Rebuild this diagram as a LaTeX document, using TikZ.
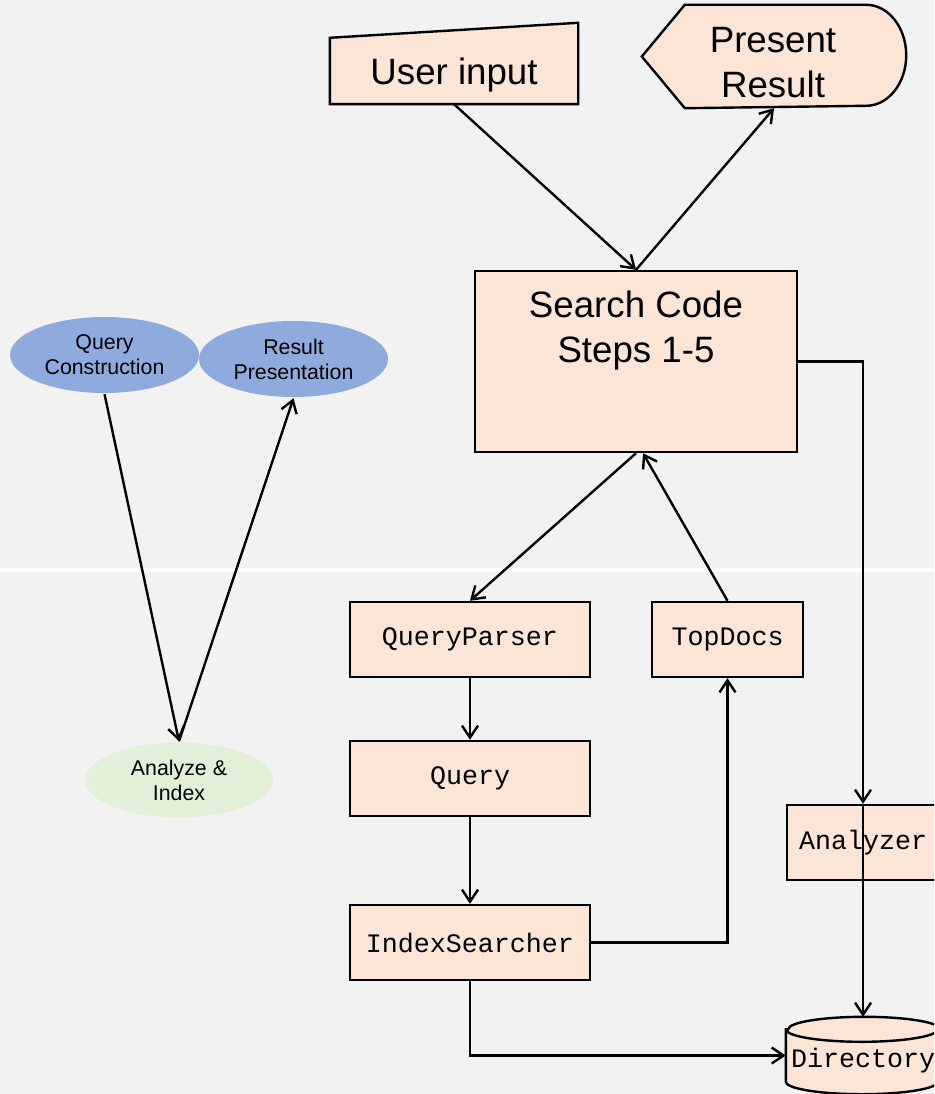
\documentclass[tikz,border=0pt]{standalone}
\usepackage{fontspec}
\setmainfont{Liberation Sans}
\setmonofont{Liberation Mono}
\usetikzlibrary{shapes.geometric,arrows.meta}

\definecolor{peach}{HTML}{FBE5D6}
\definecolor{topicblue}{HTML}{8FAADC}
\definecolor{topicgreen}{HTML}{E2F0D9}
\definecolor{slidegray}{HTML}{F2F2F2}

\begin{document}
\begin{tikzpicture}[x=0.75pt,y=-0.75pt,line width=1.8pt,
  conn/.style={-{Straight Barb[length=9pt,width=12pt]}},
  bigtext/.style={font=\fontsize{27.5}{33.75}\selectfont},
  codebox/.style={draw,fill=peach,rectangle,inner sep=0pt,
    minimum width=180pt,minimum height=56.25pt,
    font=\ttfamily\fontsize{20}{24}\selectfont},
  topic/.style={ellipse,inner sep=0pt,align=center,
    minimum width=141.75pt,minimum height=57pt,
    font=\fontsize{16}{18.75}\selectfont}]

  %background
  \useasboundingbox (0,0) rectangle (934,1094);
  \clip (0,0) rectangle (934,1094);
  \fill[slidegray] (0,0) rectangle (934,1094);
  \draw[white,line width=2.5pt] (0,570) -- (934,570);

  %topics
  \node[topic,fill=topicblue] (qcons) at (104.5,355) {Query\\Construction};
  \node[topic,fill=topicblue] (rpres) at (293.5,359) {Result\\Presentation};
  \node[topic,fill=topicgreen,minimum width=141pt,minimum height=56.25pt] (analyze) at (179,780) {Analyze \&\\Index};

  \draw[conn] (qcons.south) -- (analyze.north);
  \draw[conn] (analyze.north) -- (rpres.south);

  %user input
  \node[rectangle,inner sep=0pt,minimum width=184.5pt,minimum height=48pt,
    text depth=0pt,bigtext] (user) at (454,71) {};
  \draw[fill=peach] (user.south west) -- (user.south east)
    -- ([yshift=11.25pt]user.north east) -- (user.north west) -- cycle;
  \node[bigtext,text depth=0pt] (usertext) at (user.center) {User input};

  %present result
  \node[rectangle,inner sep=0pt,minimum width=196.5pt,minimum height=75.75pt] (present) at (774,56.5) {};
  \draw[fill=peach] (present.west) -- ([xshift=32.25pt]present.north west)
    -- ([xshift=-30pt]present.north east)
    arc[start angle=90,end angle=-90,x radius=30pt,y radius=37.875pt]
    -- ([xshift=32.25pt]present.south west) -- cycle;
  \node[bigtext,align=center] (presenttext) at (773,62.5) {Present\\Result};

  %search code
  \node[draw,fill=peach,rectangle,inner sep=0pt,
    minimum width=241.5pt,minimum height=135.75pt] (search) at (636,361.5) {};
  \node[bigtext,align=center,anchor=north,inner sep=0pt] (searchtext) at (636,290) {Search Code\\Steps 1-5};

  %lucene classes
  \node[codebox] (qparser) at (470,639.5) {QueryParser};
  \node[codebox] (query) at (470,778.5) {Query};
  \node[codebox] (isearch) at (470,942.5) {IndexSearcher};
  \node[codebox,minimum width=113.25pt] (topdocs) at (727.5,639.5) {TopDocs};
  \node[codebox,minimum width=114pt] (analyzer) at (863,842.5) {Analyzer};

  %directory (cylinder)
  \node[codebox,draw=none,fill=none,minimum width=114pt] (directory) at (863,1055.5) {};
  \draw[fill=peach] ([yshift=-9.375pt]directory.north west)
    -- ([yshift=9.375pt]directory.south west)
    arc[start angle=180,end angle=360,x radius=57pt,y radius=9.375pt]
    -- ([yshift=-9.375pt]directory.north east)
    arc[start angle=0,end angle=180,x radius=57pt,y radius=9.375pt] -- cycle;
  \draw ([yshift=-9.375pt]directory.north west)
    arc[start angle=180,end angle=360,x radius=57pt,y radius=9.375pt];
  \node[font=\ttfamily\fontsize{20}{24}\selectfont] (dirtext) at (863,1061) {Directory};

  %connectors
  \draw[conn] (user.south) -- (search.north);
  \draw[conn] (search.north) -- (present.south);
  \draw[conn] (search.south) -- (qparser.north);
  \draw[conn] (topdocs.north) -- ([xshift=5.25pt]search.south);
  \draw[conn] (search.east) -| (analyzer.north);
  \draw[conn] (analyzer.north) -- (directory.north);
  \draw[conn] (qparser.south) -- (query.north);
  \draw[conn] (query.south) -- (isearch.north);
  \draw[conn] (isearch.east) -| (topdocs.south);
  \draw[conn] (isearch.south) |- (directory.west);

\end{tikzpicture}
\end{document}
